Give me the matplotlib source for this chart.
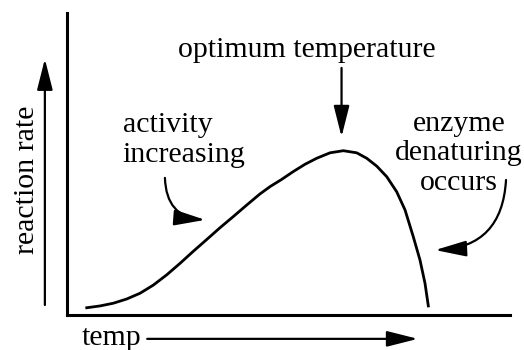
import numpy as np
import matplotlib
matplotlib.use("Agg")
import matplotlib.pyplot as plt

plt.rcParams['font.family'] = ['Liberation Serif', 'DejaVu Serif']

# Enzyme activity curve (temperature vs. reaction rate, arbitrary units 0-100)
temp = np.array([4.45, 7.45, 10.45, 13.48, 16.48, 19.48, 22.51, 25.51, 28.51,
                 31.54, 34.54, 37.54, 40.56, 43.57, 45.82, 48.46, 51.08, 53.72,
                 56.37, 59.37, 62.37, 65.40, 67.65, 69.91, 72.17, 74.42, 76.30,
                 78.17, 79.68, 80.81, 81.56])
rate = np.array([2.4, 3.0, 3.9, 5.3, 7.2, 9.9, 13.3, 17.1, 21.1,
                 25.0, 28.9, 32.6, 36.4, 40.1, 42.5, 44.9, 47.5, 49.9,
                 51.9, 53.7, 54.4, 53.7, 51.9, 49.3, 45.8, 40.8, 34.8,
                 25.9, 18.2, 10.5, 3.0])

optimum_idx = int(np.argmax(rate))

fig = plt.figure(figsize=(5.24, 3.5), dpi=100)
ax = fig.add_axes([0.1279, 0.1, 0.8454, 0.8629])
ax.set_xlim(0, 100)
ax.set_ylim(0, 100)
for side in ("top", "right"):
    ax.spines[side].set_visible(False)
for side in ("left", "bottom"):
    ax.spines[side].set_linewidth(2.2)
ax.set_xticks([])
ax.set_yticks([])

ax.plot(temp, rate, color="black", lw=2.0, solid_joinstyle="round")

fs = 21.5
arrow = dict(arrowstyle="-|>,head_length=0.95,head_width=0.24", color="black",
             lw=1.6, mutation_scale=20, shrinkA=0, shrinkB=0)

# optimum label with straight arrow down to the peak
ax.text(54.2, 85.4, "optimum temperature", ha="center", va="baseline", fontsize=fs)
ax.annotate("", xy=(temp[optimum_idx] - 0.4, rate[optimum_idx] + 4.6),
            xytext=(temp[optimum_idx] - 0.4, 81.8), arrowprops=arrow,
            annotation_clip=False)

# rising side
ax.text(12.6, 50.7, "activity\nincreasing", ha="left", va="baseline",
        fontsize=fs, linespacing=1.2)
ax.annotate("", xy=(31.2, 31.5), xytext=(22.1, 45.4),
            arrowprops=dict(arrow, connectionstyle="arc3,rad=0.45"),
            annotation_clip=False)

# falling side
ax.text(88.5, 41.4, "enzyme\ndenaturing\noccurs", ha="center", va="baseline",
        fontsize=fs, linespacing=1.18)
ax.annotate("", xy=(83.1, 21.5), xytext=(99.1, 44.7),
            arrowprops=dict(arrow, connectionstyle="arc3,rad=-0.45"),
            annotation_clip=False)

# axis captions with arrows
ax.text(-9.0, 44.7, "reaction rate", rotation=90, ha="center", va="center",
        fontsize=fs, clip_on=False)
ax.annotate("", xy=(-5.0, 84.8), xytext=(-5.0, 3.3), arrowprops=arrow,
            annotation_clip=False)
ax.text(3.4, -9.9, "temp", ha="left", va="baseline", fontsize=fs, clip_on=False)
ax.annotate("", xy=(79.2, -7.9), xytext=(18.1, -7.9), arrowprops=arrow,
            annotation_clip=False)

fig.savefig("out.png", dpi=100)
